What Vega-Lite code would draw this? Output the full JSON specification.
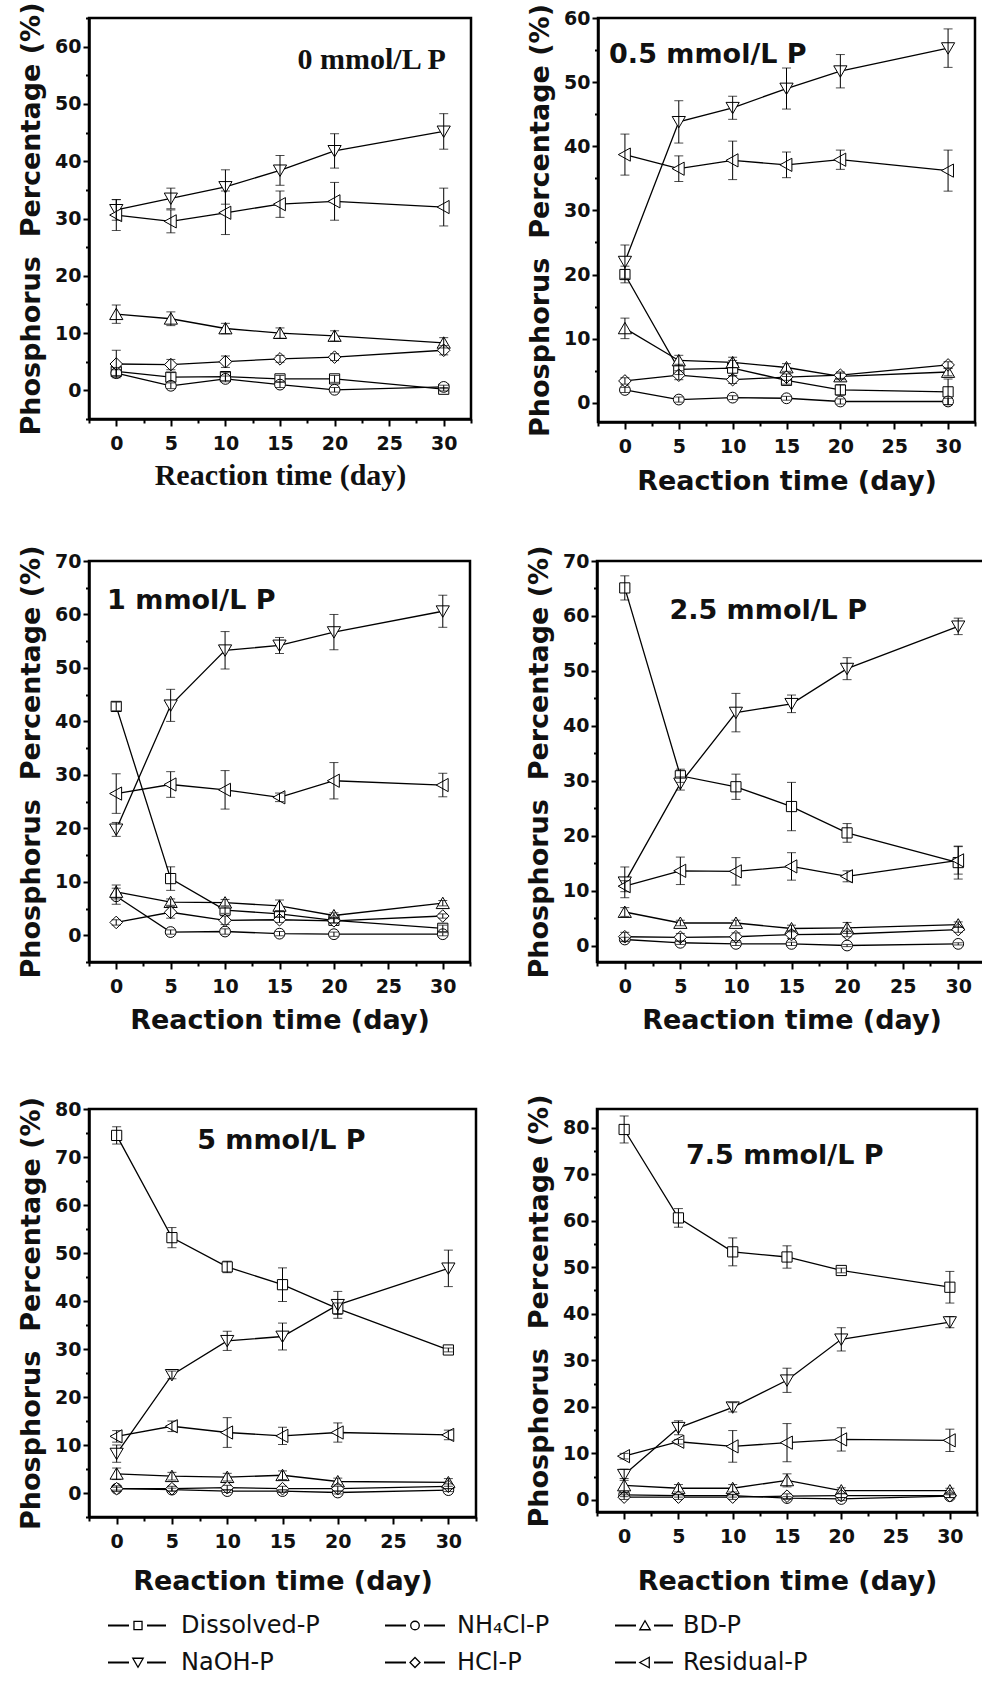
{
  "$schema": "https://vega.github.io/schema/vega-lite/v6.json",
  "background": "white",
  "padding": {"left": 16, "top": 0, "right": 0, "bottom": 0},
  "datasets": {
    "pts": [
      {"p":"0","s":"Dissolved-P","d":0,"v":3.3,"e":0.7},{"p":"0","s":"Dissolved-P","d":5,"v":2.3,"e":0.8},{"p":"0","s":"Dissolved-P","d":10,"v":2.4,"e":0.7},{"p":"0","s":"Dissolved-P","d":15,"v":2.0,"e":0.6},{"p":"0","s":"Dissolved-P","d":20,"v":2.0,"e":0.6},{"p":"0","s":"Dissolved-P","d":30,"v":0.2,"e":0.3},
      {"p":"0","s":"NH\u2084Cl-P","d":0,"v":3.0,"e":0.6},{"p":"0","s":"NH\u2084Cl-P","d":5,"v":0.8,"e":0.5},{"p":"0","s":"NH\u2084Cl-P","d":10,"v":2.0,"e":0.5},{"p":"0","s":"NH\u2084Cl-P","d":15,"v":1.0,"e":0.5},{"p":"0","s":"NH\u2084Cl-P","d":20,"v":0.1,"e":0.4},{"p":"0","s":"NH\u2084Cl-P","d":30,"v":0.6,"e":0.3},
      {"p":"0","s":"BD-P","d":0,"v":13.3,"e":1.6},{"p":"0","s":"BD-P","d":5,"v":12.5,"e":1.2},{"p":"0","s":"BD-P","d":10,"v":10.8,"e":0.9},{"p":"0","s":"BD-P","d":15,"v":10.0,"e":0.9},{"p":"0","s":"BD-P","d":20,"v":9.5,"e":0.9},{"p":"0","s":"BD-P","d":30,"v":8.3,"e":0.9},
      {"p":"0","s":"NaOH-P","d":0,"v":31.5,"e":1.8},{"p":"0","s":"NaOH-P","d":5,"v":33.5,"e":1.8},{"p":"0","s":"NaOH-P","d":10,"v":35.5,"e":3.0},{"p":"0","s":"NaOH-P","d":15,"v":38.4,"e":2.6},{"p":"0","s":"NaOH-P","d":20,"v":41.8,"e":3.0},{"p":"0","s":"NaOH-P","d":30,"v":45.2,"e":3.1},
      {"p":"0","s":"HCl-P","d":0,"v":4.6,"e":2.4},{"p":"0","s":"HCl-P","d":5,"v":4.5,"e":0.9},{"p":"0","s":"HCl-P","d":10,"v":5.0,"e":1.0},{"p":"0","s":"HCl-P","d":15,"v":5.5,"e":0.6},{"p":"0","s":"HCl-P","d":20,"v":5.8,"e":0.6},{"p":"0","s":"HCl-P","d":30,"v":7.0,"e":0.8},
      {"p":"0","s":"Residual-P","d":0,"v":30.6,"e":2.7},{"p":"0","s":"Residual-P","d":5,"v":29.5,"e":2.0},{"p":"0","s":"Residual-P","d":10,"v":31.0,"e":3.8},{"p":"0","s":"Residual-P","d":15,"v":32.5,"e":2.3},{"p":"0","s":"Residual-P","d":20,"v":33.0,"e":3.3},{"p":"0","s":"Residual-P","d":30,"v":32.0,"e":3.3},

      {"p":"0.5","s":"Dissolved-P","d":0,"v":20.0,"e":1.3},{"p":"0.5","s":"Dissolved-P","d":5,"v":5.2,"e":0.8},{"p":"0.5","s":"Dissolved-P","d":10,"v":5.4,"e":1.2},{"p":"0.5","s":"Dissolved-P","d":15,"v":3.5,"e":0.6},{"p":"0.5","s":"Dissolved-P","d":20,"v":2.0,"e":0.8},{"p":"0.5","s":"Dissolved-P","d":30,"v":1.7,"e":2.0},
      {"p":"0.5","s":"NH\u2084Cl-P","d":0,"v":2.0,"e":0.4},{"p":"0.5","s":"NH\u2084Cl-P","d":5,"v":0.5,"e":0.4},{"p":"0.5","s":"NH\u2084Cl-P","d":10,"v":0.8,"e":0.3},{"p":"0.5","s":"NH\u2084Cl-P","d":15,"v":0.7,"e":0.3},{"p":"0.5","s":"NH\u2084Cl-P","d":20,"v":0.2,"e":0.4},{"p":"0.5","s":"NH\u2084Cl-P","d":30,"v":0.2,"e":0.5},
      {"p":"0.5","s":"BD-P","d":0,"v":11.6,"e":1.6},{"p":"0.5","s":"BD-P","d":5,"v":6.6,"e":0.8},{"p":"0.5","s":"BD-P","d":10,"v":6.3,"e":0.8},{"p":"0.5","s":"BD-P","d":15,"v":5.5,"e":0.6},{"p":"0.5","s":"BD-P","d":20,"v":4.1,"e":0.5},{"p":"0.5","s":"BD-P","d":30,"v":4.8,"e":0.6},
      {"p":"0.5","s":"NaOH-P","d":0,"v":22.0,"e":2.6},{"p":"0.5","s":"NaOH-P","d":5,"v":43.8,"e":3.3},{"p":"0.5","s":"NaOH-P","d":10,"v":46.0,"e":1.8},{"p":"0.5","s":"NaOH-P","d":15,"v":49.0,"e":3.2},{"p":"0.5","s":"NaOH-P","d":20,"v":51.7,"e":2.6},{"p":"0.5","s":"NaOH-P","d":30,"v":55.3,"e":3.0},
      {"p":"0.5","s":"HCl-P","d":0,"v":3.4,"e":0.5},{"p":"0.5","s":"HCl-P","d":5,"v":4.3,"e":0.7},{"p":"0.5","s":"HCl-P","d":10,"v":3.6,"e":0.6},{"p":"0.5","s":"HCl-P","d":15,"v":4.0,"e":0.5},{"p":"0.5","s":"HCl-P","d":20,"v":4.3,"e":0.5},{"p":"0.5","s":"HCl-P","d":30,"v":5.9,"e":0.5},
      {"p":"0.5","s":"Residual-P","d":0,"v":38.7,"e":3.2},{"p":"0.5","s":"Residual-P","d":5,"v":36.5,"e":2.0},{"p":"0.5","s":"Residual-P","d":10,"v":37.8,"e":3.0},{"p":"0.5","s":"Residual-P","d":15,"v":37.1,"e":2.0},{"p":"0.5","s":"Residual-P","d":20,"v":37.9,"e":1.5},{"p":"0.5","s":"Residual-P","d":30,"v":36.2,"e":3.2},

      {"p":"1","s":"Dissolved-P","d":0,"v":42.8,"e":0.8},{"p":"1","s":"Dissolved-P","d":5,"v":10.6,"e":2.2},{"p":"1","s":"Dissolved-P","d":10,"v":4.7,"e":0.6},{"p":"1","s":"Dissolved-P","d":15,"v":4.0,"e":0.6},{"p":"1","s":"Dissolved-P","d":20,"v":2.8,"e":0.5},{"p":"1","s":"Dissolved-P","d":30,"v":1.3,"e":0.6},
      {"p":"1","s":"NH\u2084Cl-P","d":0,"v":7.3,"e":1.5},{"p":"1","s":"NH\u2084Cl-P","d":5,"v":0.6,"e":0.4},{"p":"1","s":"NH\u2084Cl-P","d":10,"v":0.7,"e":0.5},{"p":"1","s":"NH\u2084Cl-P","d":15,"v":0.3,"e":0.4},{"p":"1","s":"NH\u2084Cl-P","d":20,"v":0.2,"e":0.4},{"p":"1","s":"NH\u2084Cl-P","d":30,"v":0.2,"e":0.3},
      {"p":"1","s":"BD-P","d":0,"v":8.1,"e":1.3},{"p":"1","s":"BD-P","d":5,"v":6.2,"e":0.6},{"p":"1","s":"BD-P","d":10,"v":6.1,"e":0.6},{"p":"1","s":"BD-P","d":15,"v":5.5,"e":1.1},{"p":"1","s":"BD-P","d":20,"v":3.7,"e":0.5},{"p":"1","s":"BD-P","d":30,"v":6.0,"e":0.5},
      {"p":"1","s":"NaOH-P","d":0,"v":19.8,"e":1.3},{"p":"1","s":"NaOH-P","d":5,"v":43.0,"e":3.0},{"p":"1","s":"NaOH-P","d":10,"v":53.3,"e":3.5},{"p":"1","s":"NaOH-P","d":15,"v":54.2,"e":1.5},{"p":"1","s":"NaOH-P","d":20,"v":56.7,"e":3.3},{"p":"1","s":"NaOH-P","d":30,"v":60.6,"e":3.0},
      {"p":"1","s":"HCl-P","d":0,"v":2.4,"e":0.5},{"p":"1","s":"HCl-P","d":5,"v":4.3,"e":1.1},{"p":"1","s":"HCl-P","d":10,"v":2.8,"e":0.8},{"p":"1","s":"HCl-P","d":15,"v":2.9,"e":0.5},{"p":"1","s":"HCl-P","d":20,"v":2.7,"e":0.4},{"p":"1","s":"HCl-P","d":30,"v":3.6,"e":0.4},
      {"p":"1","s":"Residual-P","d":0,"v":26.5,"e":3.7},{"p":"1","s":"Residual-P","d":5,"v":28.2,"e":2.4},{"p":"1","s":"Residual-P","d":10,"v":27.2,"e":3.6},{"p":"1","s":"Residual-P","d":15,"v":25.8,"e":0.8},{"p":"1","s":"Residual-P","d":20,"v":28.9,"e":3.4},{"p":"1","s":"Residual-P","d":30,"v":28.1,"e":2.2},

      {"p":"2.5","s":"Dissolved-P","d":0,"v":65.1,"e":2.2},{"p":"2.5","s":"Dissolved-P","d":5,"v":30.9,"e":1.2},{"p":"2.5","s":"Dissolved-P","d":10,"v":28.9,"e":2.3},{"p":"2.5","s":"Dissolved-P","d":15,"v":25.3,"e":4.4},{"p":"2.5","s":"Dissolved-P","d":20,"v":20.5,"e":1.7},{"p":"2.5","s":"Dissolved-P","d":30,"v":15.1,"e":3.0},
      {"p":"2.5","s":"NH\u2084Cl-P","d":0,"v":1.1,"e":0.4},{"p":"2.5","s":"NH\u2084Cl-P","d":5,"v":0.5,"e":0.3},{"p":"2.5","s":"NH\u2084Cl-P","d":10,"v":0.3,"e":0.3},{"p":"2.5","s":"NH\u2084Cl-P","d":15,"v":0.3,"e":0.3},{"p":"2.5","s":"NH\u2084Cl-P","d":20,"v":0.0,"e":0.2},{"p":"2.5","s":"NH\u2084Cl-P","d":30,"v":0.3,"e":0.2},
      {"p":"2.5","s":"BD-P","d":0,"v":6.1,"e":0.8},{"p":"2.5","s":"BD-P","d":5,"v":4.1,"e":0.5},{"p":"2.5","s":"BD-P","d":10,"v":4.1,"e":0.5},{"p":"2.5","s":"BD-P","d":15,"v":3.1,"e":0.6},{"p":"2.5","s":"BD-P","d":20,"v":3.2,"e":1.0},{"p":"2.5","s":"BD-P","d":30,"v":3.8,"e":0.5},
      {"p":"2.5","s":"NaOH-P","d":0,"v":11.5,"e":2.8},{"p":"2.5","s":"NaOH-P","d":5,"v":29.5,"e":1.2},{"p":"2.5","s":"NaOH-P","d":10,"v":42.4,"e":3.5},{"p":"2.5","s":"NaOH-P","d":15,"v":44.0,"e":1.6},{"p":"2.5","s":"NaOH-P","d":20,"v":50.4,"e":2.0},{"p":"2.5","s":"NaOH-P","d":30,"v":58.1,"e":1.5},
      {"p":"2.5","s":"HCl-P","d":0,"v":1.6,"e":0.8},{"p":"2.5","s":"HCl-P","d":5,"v":1.5,"e":0.7},{"p":"2.5","s":"HCl-P","d":10,"v":1.6,"e":0.7},{"p":"2.5","s":"HCl-P","d":15,"v":2.0,"e":0.7},{"p":"2.5","s":"HCl-P","d":20,"v":2.1,"e":0.5},{"p":"2.5","s":"HCl-P","d":30,"v":2.9,"e":0.5},
      {"p":"2.5","s":"Residual-P","d":0,"v":10.8,"e":1.0},{"p":"2.5","s":"Residual-P","d":5,"v":13.6,"e":2.5},{"p":"2.5","s":"Residual-P","d":10,"v":13.5,"e":2.5},{"p":"2.5","s":"Residual-P","d":15,"v":14.4,"e":2.5},{"p":"2.5","s":"Residual-P","d":20,"v":12.6,"e":1.0},{"p":"2.5","s":"Residual-P","d":30,"v":15.5,"e":2.5},

      {"p":"5","s":"Dissolved-P","d":0,"v":74.5,"e":1.8},{"p":"5","s":"Dissolved-P","d":5,"v":53.2,"e":2.1},{"p":"5","s":"Dissolved-P","d":10,"v":47.1,"e":1.2},{"p":"5","s":"Dissolved-P","d":15,"v":43.4,"e":3.5},{"p":"5","s":"Dissolved-P","d":20,"v":38.4,"e":1.2},{"p":"5","s":"Dissolved-P","d":30,"v":29.8,"e":0.4},
      {"p":"5","s":"NH\u2084Cl-P","d":0,"v":0.9,"e":0.3},{"p":"5","s":"NH\u2084Cl-P","d":5,"v":0.7,"e":0.3},{"p":"5","s":"NH\u2084Cl-P","d":10,"v":0.4,"e":0.3},{"p":"5","s":"NH\u2084Cl-P","d":15,"v":0.4,"e":0.3},{"p":"5","s":"NH\u2084Cl-P","d":20,"v":0.1,"e":0.3},{"p":"5","s":"NH\u2084Cl-P","d":30,"v":0.6,"e":0.3},
      {"p":"5","s":"BD-P","d":0,"v":4.0,"e":1.2},{"p":"5","s":"BD-P","d":5,"v":3.5,"e":0.8},{"p":"5","s":"BD-P","d":10,"v":3.3,"e":0.8},{"p":"5","s":"BD-P","d":15,"v":3.7,"e":0.9},{"p":"5","s":"BD-P","d":20,"v":2.4,"e":0.7},{"p":"5","s":"BD-P","d":30,"v":2.2,"e":0.8},
      {"p":"5","s":"NaOH-P","d":0,"v":8.2,"e":1.8},{"p":"5","s":"NaOH-P","d":5,"v":24.6,"e":0.8},{"p":"5","s":"NaOH-P","d":10,"v":31.7,"e":2.0},{"p":"5","s":"NaOH-P","d":15,"v":32.6,"e":2.8},{"p":"5","s":"NaOH-P","d":20,"v":39.2,"e":2.8},{"p":"5","s":"NaOH-P","d":30,"v":46.8,"e":3.8},
      {"p":"5","s":"HCl-P","d":0,"v":0.9,"e":0.6},{"p":"5","s":"HCl-P","d":5,"v":0.9,"e":0.5},{"p":"5","s":"HCl-P","d":10,"v":1.1,"e":0.5},{"p":"5","s":"HCl-P","d":15,"v":0.9,"e":0.5},{"p":"5","s":"HCl-P","d":20,"v":0.9,"e":0.5},{"p":"5","s":"HCl-P","d":30,"v":1.4,"e":0.5},
      {"p":"5","s":"Residual-P","d":0,"v":11.8,"e":1.2},{"p":"5","s":"Residual-P","d":5,"v":13.9,"e":1.1},{"p":"5","s":"Residual-P","d":10,"v":12.6,"e":3.1},{"p":"5","s":"Residual-P","d":15,"v":11.9,"e":1.8},{"p":"5","s":"Residual-P","d":20,"v":12.6,"e":2.0},{"p":"5","s":"Residual-P","d":30,"v":12.1,"e":1.0},

      {"p":"7.5","s":"Dissolved-P","d":0,"v":79.6,"e":2.9},{"p":"7.5","s":"Dissolved-P","d":5,"v":60.6,"e":2.0},{"p":"7.5","s":"Dissolved-P","d":10,"v":53.3,"e":3.0},{"p":"7.5","s":"Dissolved-P","d":15,"v":52.2,"e":2.4},{"p":"7.5","s":"Dissolved-P","d":20,"v":49.3,"e":0.5},{"p":"7.5","s":"Dissolved-P","d":30,"v":45.7,"e":3.4},
      {"p":"7.5","s":"NH\u2084Cl-P","d":0,"v":1.1,"e":0.4},{"p":"7.5","s":"NH\u2084Cl-P","d":5,"v":0.9,"e":0.3},{"p":"7.5","s":"NH\u2084Cl-P","d":10,"v":0.9,"e":0.3},{"p":"7.5","s":"NH\u2084Cl-P","d":15,"v":0.4,"e":0.3},{"p":"7.5","s":"NH\u2084Cl-P","d":20,"v":0.2,"e":0.3},{"p":"7.5","s":"NH\u2084Cl-P","d":30,"v":0.8,"e":0.3},
      {"p":"7.5","s":"BD-P","d":0,"v":3.1,"e":1.5},{"p":"7.5","s":"BD-P","d":5,"v":2.5,"e":0.8},{"p":"7.5","s":"BD-P","d":10,"v":2.5,"e":0.8},{"p":"7.5","s":"BD-P","d":15,"v":4.2,"e":1.4},{"p":"7.5","s":"BD-P","d":20,"v":2.0,"e":0.6},{"p":"7.5","s":"BD-P","d":30,"v":2.0,"e":0.5},
      {"p":"7.5","s":"NaOH-P","d":0,"v":5.4,"e":1.2},{"p":"7.5","s":"NaOH-P","d":5,"v":15.5,"e":1.5},{"p":"7.5","s":"NaOH-P","d":10,"v":19.9,"e":1.0},{"p":"7.5","s":"NaOH-P","d":15,"v":25.7,"e":2.6},{"p":"7.5","s":"NaOH-P","d":20,"v":34.5,"e":2.5},{"p":"7.5","s":"NaOH-P","d":30,"v":38.2,"e":1.2},
      {"p":"7.5","s":"HCl-P","d":0,"v":0.6,"e":0.5},{"p":"7.5","s":"HCl-P","d":5,"v":0.6,"e":0.5},{"p":"7.5","s":"HCl-P","d":10,"v":0.6,"e":0.5},{"p":"7.5","s":"HCl-P","d":15,"v":0.8,"e":0.5},{"p":"7.5","s":"HCl-P","d":20,"v":0.9,"e":0.4},{"p":"7.5","s":"HCl-P","d":30,"v":0.9,"e":0.4},
      {"p":"7.5","s":"Residual-P","d":0,"v":9.4,"e":0.6},{"p":"7.5","s":"Residual-P","d":5,"v":12.5,"e":0.5},{"p":"7.5","s":"Residual-P","d":10,"v":11.5,"e":3.4},{"p":"7.5","s":"Residual-P","d":15,"v":12.3,"e":4.1},{"p":"7.5","s":"Residual-P","d":20,"v":13.0,"e":2.5},{"p":"7.5","s":"Residual-P","d":30,"v":12.8,"e":2.4}
    ]
  },
  "data": {"name": "pts"},
  "spacing": 47,
  "vconcat": [
    {
      "bounds": "flush",
      "spacing": 127,
      "hconcat": [
        {
          "width": 382, "height": 401,
          "encoding": {
            "x": {"field": "d", "type": "quantitative", "scale": {"domain": [-2.5, 32.5], "nice": false, "zero": false},
              "axis": {"title": "Reaction time (day)", "titleFont": "Liberation Serif", "titleFontSize": 30, "titlePadding": 7,
                "values": [-2.5,0,2.5,5,7.5,10,12.5,15,17.5,20,22.5,25,27.5,30,32.5],
                "labelExpr": "datum.value % 5 === 0 && datum.value >= 0 ? datum.label : ''",
                "tickSize": {"condition": {"test": "datum.value % 5 === 0", "value": 7}, "value": 4}, "labelPadding": 8}},
            "y": {"field": "v", "type": "quantitative", "scale": {"domain": [-5, 65], "nice": false, "zero": false},
              "axis": {"title": "Phosphorus\u00a0 Percentage (%)", "titlePadding": 9,
                "values": [-5,0,5,10,15,20,25,30,35,40,45,50,55,60,65],
                "labelExpr": "datum.value % 10 === 0 && datum.value >= 0 ? datum.label : ''",
                "tickSize": {"condition": {"test": "datum.value % 10 === 0", "value": 6}, "value": 3.5}, "labelPadding": 2}}
          },
          "layer": [
            {"transform": [{"filter": {"field": "p", "equal": "0"}}], "mark": {"type": "line", "color": "black", "strokeWidth": 1.3}, "encoding": {"detail": {"field": "s"}}},
            {"transform": [{"filter": {"field": "p", "equal": "0"}}], "mark": {"type": "point", "filled": true, "fill": "white", "stroke": "black", "strokeWidth": 1, "size": 144, "opacity": 1},
              "encoding": {"shape": {"field": "s", "type": "nominal", "legend": null,
                "scale": {"domain": ["Dissolved-P", "NH\u2084Cl-P", "BD-P", "NaOH-P", "HCl-P", "Residual-P"],
                  "range": ["M-0.85,-0.85H0.85V0.85H-0.85Z", "M0.9,0A0.9,0.9 0 1,1 -0.9,0A0.9,0.9 0 1,1 0.9,0Z", "M0,-1L1.1,0.9H-1.1Z", "M-1.1,-0.9H1.1L0,1Z", "M0,-1.05L1.05,0L0,1.05L-1.05,0Z", "M-1.1,0L0.9,-1.1V1.1Z"]}}}},
            {"transform": [{"filter": {"field": "p", "equal": "0"}}], "mark": {"type": "errorbar", "color": "black", "ticks": {"size": 9, "strokeWidth": 1}, "rule": {"strokeWidth": 1}}, "encoding": {"yError": {"field": "e"}}},
            {"transform": [{"filter": {"field": "p", "equal": "0"}}, {"filter": {"field": "d", "equal": 0}}, {"filter": {"field": "s", "equal": "Dissolved-P"}}],
              "mark": {"type": "text", "font": "Liberation Serif", "fontWeight": "bold", "fontSize": 30, "align": "center", "baseline": "middle", "fill": "#111"},
              "encoding": {"x": {"datum": 23.4, "type": "quantitative"}, "y": {"datum": 57.6, "type": "quantitative"}, "text": {"value": "0 mmol/L P"}}}
          ]
        },
        {
          "width": 377, "height": 404,
          "encoding": {
            "x": {"field": "d", "type": "quantitative", "scale": {"domain": [-2.5, 32.5], "nice": false, "zero": false},
              "axis": {"title": "Reaction time (day)", "titlePadding": 12,
                "values": [-2.5,0,2.5,5,7.5,10,12.5,15,17.5,20,22.5,25,27.5,30,32.5],
                "labelExpr": "datum.value % 5 === 0 && datum.value >= 0 ? datum.label : ''",
                "tickSize": {"condition": {"test": "datum.value % 5 === 0", "value": 7}, "value": 4}, "labelPadding": 8}},
            "y": {"field": "v", "type": "quantitative", "scale": {"domain": [-3, 60], "nice": false, "zero": false},
              "axis": {"title": "Phosphorus\u00a0 Percentage (%)", "titlePadding": 9,
                "values": [0,5,10,15,20,25,30,35,40,45,50,55,60],
                "labelExpr": "datum.value % 10 === 0 && datum.value >= 0 ? datum.label : ''",
                "tickSize": {"condition": {"test": "datum.value % 10 === 0", "value": 6}, "value": 3.5}, "labelPadding": 2}}
          },
          "layer": [
            {"transform": [{"filter": {"field": "p", "equal": "0.5"}}], "mark": {"type": "line", "color": "black", "strokeWidth": 1.3}, "encoding": {"detail": {"field": "s"}}},
            {"transform": [{"filter": {"field": "p", "equal": "0.5"}}], "mark": {"type": "point", "filled": true, "fill": "white", "stroke": "black", "strokeWidth": 1, "size": 144, "opacity": 1},
              "encoding": {"shape": {"field": "s", "type": "nominal", "legend": null,
                "scale": {"domain": ["Dissolved-P", "NH\u2084Cl-P", "BD-P", "NaOH-P", "HCl-P", "Residual-P"],
                  "range": ["M-0.85,-0.85H0.85V0.85H-0.85Z", "M0.9,0A0.9,0.9 0 1,1 -0.9,0A0.9,0.9 0 1,1 0.9,0Z", "M0,-1L1.1,0.9H-1.1Z", "M-1.1,-0.9H1.1L0,1Z", "M0,-1.05L1.05,0L0,1.05L-1.05,0Z", "M-1.1,0L0.9,-1.1V1.1Z"]}}}},
            {"transform": [{"filter": {"field": "p", "equal": "0.5"}}], "mark": {"type": "errorbar", "color": "black", "ticks": {"size": 9, "strokeWidth": 1}, "rule": {"strokeWidth": 1}}, "encoding": {"yError": {"field": "e"}}},
            {"transform": [{"filter": {"field": "p", "equal": "0.5"}}, {"filter": {"field": "d", "equal": 0}}, {"filter": {"field": "s", "equal": "Dissolved-P"}}],
              "mark": {"type": "text", "font": "DejaVu Sans", "fontWeight": "bold", "fontSize": 27, "align": "center", "baseline": "middle", "fill": "#111"},
              "encoding": {"x": {"datum": 7.7, "type": "quantitative"}, "y": {"datum": 54.2, "type": "quantitative"}, "text": {"value": "0.5 mmol/L P"}}}
          ]
        }
      ]
    },
    {
      "spacing": 57,
      "vconcat": [
        {
          "bounds": "flush",
          "spacing": 127,
          "hconcat": [
            {
              "width": 381, "height": 401,
              "encoding": {
                "x": {"field": "d", "type": "quantitative", "scale": {"domain": [-2.5, 32.5], "nice": false, "zero": false},
                  "axis": {"title": "Reaction time (day)", "titlePadding": 11,
                    "values": [-2.5,0,2.5,5,7.5,10,12.5,15,17.5,20,22.5,25,27.5,30,32.5],
                    "labelExpr": "datum.value % 5 === 0 && datum.value >= 0 ? datum.label : ''",
                    "tickSize": {"condition": {"test": "datum.value % 5 === 0", "value": 7}, "value": 4}, "labelPadding": 8}},
                "y": {"field": "v", "type": "quantitative", "scale": {"domain": [-5, 70], "nice": false, "zero": false},
                  "axis": {"title": "Phosphorus\u00a0 Percentage (%)", "titlePadding": 9,
                    "values": [-5,0,5,10,15,20,25,30,35,40,45,50,55,60,65,70],
                    "labelExpr": "datum.value % 10 === 0 && datum.value >= 0 ? datum.label : ''",
                    "tickSize": {"condition": {"test": "datum.value % 10 === 0", "value": 6}, "value": 3.5}, "labelPadding": 2}}
              },
              "layer": [
                {"transform": [{"filter": {"field": "p", "equal": "1"}}], "mark": {"type": "line", "color": "black", "strokeWidth": 1.3}, "encoding": {"detail": {"field": "s"}}},
                {"transform": [{"filter": {"field": "p", "equal": "1"}}], "mark": {"type": "point", "filled": true, "fill": "white", "stroke": "black", "strokeWidth": 1, "size": 144, "opacity": 1},
                  "encoding": {"shape": {"field": "s", "type": "nominal", "legend": null,
                    "scale": {"domain": ["Dissolved-P", "NH\u2084Cl-P", "BD-P", "NaOH-P", "HCl-P", "Residual-P"],
                      "range": ["M-0.85,-0.85H0.85V0.85H-0.85Z", "M0.9,0A0.9,0.9 0 1,1 -0.9,0A0.9,0.9 0 1,1 0.9,0Z", "M0,-1L1.1,0.9H-1.1Z", "M-1.1,-0.9H1.1L0,1Z", "M0,-1.05L1.05,0L0,1.05L-1.05,0Z", "M-1.1,0L0.9,-1.1V1.1Z"]}}}},
                {"transform": [{"filter": {"field": "p", "equal": "1"}}], "mark": {"type": "errorbar", "color": "black", "ticks": {"size": 9, "strokeWidth": 1}, "rule": {"strokeWidth": 1}}, "encoding": {"yError": {"field": "e"}}},
                {"transform": [{"filter": {"field": "p", "equal": "1"}}, {"filter": {"field": "d", "equal": 0}}, {"filter": {"field": "s", "equal": "Dissolved-P"}}],
                  "mark": {"type": "text", "font": "DejaVu Sans", "fontWeight": "bold", "fontSize": 27, "align": "center", "baseline": "middle", "fill": "#111"},
                  "encoding": {"x": {"datum": 6.9, "type": "quantitative"}, "y": {"datum": 62.6, "type": "quantitative"}, "text": {"value": "1 mmol/L P"}}}
              ]
            },
            {
              "width": 389, "height": 401,
              "encoding": {
                "x": {"field": "d", "type": "quantitative", "scale": {"domain": [-2.5, 32.5], "nice": false, "zero": false},
                  "axis": {"title": "Reaction time (day)", "titlePadding": 11,
                    "values": [-2.5,0,2.5,5,7.5,10,12.5,15,17.5,20,22.5,25,27.5,30,32.5],
                    "labelExpr": "datum.value % 5 === 0 && datum.value >= 0 ? datum.label : ''",
                    "tickSize": {"condition": {"test": "datum.value % 5 === 0", "value": 7}, "value": 4}, "labelPadding": 8}},
                "y": {"field": "v", "type": "quantitative", "scale": {"domain": [-3, 70], "nice": false, "zero": false},
                  "axis": {"title": "Phosphorus\u00a0 Percentage (%)", "titlePadding": 9,
                    "values": [0,5,10,15,20,25,30,35,40,45,50,55,60,65,70],
                    "labelExpr": "datum.value % 10 === 0 && datum.value >= 0 ? datum.label : ''",
                    "tickSize": {"condition": {"test": "datum.value % 10 === 0", "value": 6}, "value": 3.5}, "labelPadding": 2}}
              },
              "layer": [
                {"transform": [{"filter": {"field": "p", "equal": "2.5"}}], "mark": {"type": "line", "color": "black", "strokeWidth": 1.3}, "encoding": {"detail": {"field": "s"}}},
                {"transform": [{"filter": {"field": "p", "equal": "2.5"}}], "mark": {"type": "point", "filled": true, "fill": "white", "stroke": "black", "strokeWidth": 1, "size": 144, "opacity": 1},
                  "encoding": {"shape": {"field": "s", "type": "nominal", "legend": null,
                    "scale": {"domain": ["Dissolved-P", "NH\u2084Cl-P", "BD-P", "NaOH-P", "HCl-P", "Residual-P"],
                      "range": ["M-0.85,-0.85H0.85V0.85H-0.85Z", "M0.9,0A0.9,0.9 0 1,1 -0.9,0A0.9,0.9 0 1,1 0.9,0Z", "M0,-1L1.1,0.9H-1.1Z", "M-1.1,-0.9H1.1L0,1Z", "M0,-1.05L1.05,0L0,1.05L-1.05,0Z", "M-1.1,0L0.9,-1.1V1.1Z"]}}}},
                {"transform": [{"filter": {"field": "p", "equal": "2.5"}}], "mark": {"type": "errorbar", "color": "black", "ticks": {"size": 9, "strokeWidth": 1}, "rule": {"strokeWidth": 1}}, "encoding": {"yError": {"field": "e"}}},
                {"transform": [{"filter": {"field": "p", "equal": "2.5"}}, {"filter": {"field": "d", "equal": 0}}, {"filter": {"field": "s", "equal": "Dissolved-P"}}],
                  "mark": {"type": "text", "font": "DejaVu Sans", "fontWeight": "bold", "fontSize": 27, "align": "center", "baseline": "middle", "fill": "#111"},
                  "encoding": {"x": {"datum": 12.9, "type": "quantitative"}, "y": {"datum": 60.9, "type": "quantitative"}, "text": {"value": "2.5 mmol/L P"}}}
              ]
            }
          ]
        },
        {
          "spacing": 11,
          "vconcat": [
            {
              "bounds": "flush",
              "spacing": 121,
              "hconcat": [
                {
                  "width": 387, "height": 408,
                  "encoding": {
                    "x": {"field": "d", "type": "quantitative", "scale": {"domain": [-2.5, 32.5], "nice": false, "zero": false},
                      "axis": {"title": "Reaction time (day)", "titlePadding": 17,
                        "values": [-2.5,0,2.5,5,7.5,10,12.5,15,17.5,20,22.5,25,27.5,30,32.5],
                        "labelExpr": "datum.value % 5 === 0 && datum.value >= 0 ? datum.label : ''",
                        "tickSize": {"condition": {"test": "datum.value % 5 === 0", "value": 7}, "value": 4}, "labelPadding": 8}},
                    "y": {"field": "v", "type": "quantitative", "scale": {"domain": [-5, 80], "nice": false, "zero": false},
                      "axis": {"title": "Phosphorus\u00a0 Percentage (%)", "titlePadding": 9,
                        "values": [-5,0,5,10,15,20,25,30,35,40,45,50,55,60,65,70,75,80],
                        "labelExpr": "datum.value % 10 === 0 && datum.value >= 0 ? datum.label : ''",
                        "tickSize": {"condition": {"test": "datum.value % 10 === 0", "value": 6}, "value": 3.5}, "labelPadding": 2}}
                  },
                  "layer": [
                    {"transform": [{"filter": {"field": "p", "equal": "5"}}], "mark": {"type": "line", "color": "black", "strokeWidth": 1.3}, "encoding": {"detail": {"field": "s"}}},
                    {"transform": [{"filter": {"field": "p", "equal": "5"}}], "mark": {"type": "point", "filled": true, "fill": "white", "stroke": "black", "strokeWidth": 1, "size": 144, "opacity": 1},
                      "encoding": {"shape": {"field": "s", "type": "nominal", "legend": null,
                        "scale": {"domain": ["Dissolved-P", "NH\u2084Cl-P", "BD-P", "NaOH-P", "HCl-P", "Residual-P"],
                          "range": ["M-0.85,-0.85H0.85V0.85H-0.85Z", "M0.9,0A0.9,0.9 0 1,1 -0.9,0A0.9,0.9 0 1,1 0.9,0Z", "M0,-1L1.1,0.9H-1.1Z", "M-1.1,-0.9H1.1L0,1Z", "M0,-1.05L1.05,0L0,1.05L-1.05,0Z", "M-1.1,0L0.9,-1.1V1.1Z"]}}}},
                    {"transform": [{"filter": {"field": "p", "equal": "5"}}], "mark": {"type": "errorbar", "color": "black", "ticks": {"size": 9, "strokeWidth": 1}, "rule": {"strokeWidth": 1}}, "encoding": {"yError": {"field": "e"}}},
                    {"transform": [{"filter": {"field": "p", "equal": "5"}}, {"filter": {"field": "d", "equal": 0}}, {"filter": {"field": "s", "equal": "Dissolved-P"}}],
                      "mark": {"type": "text", "font": "DejaVu Sans", "fontWeight": "bold", "fontSize": 27, "align": "center", "baseline": "middle", "fill": "#111"},
                      "encoding": {"x": {"datum": 14.9, "type": "quantitative"}, "y": {"datum": 73.3, "type": "quantitative"}, "text": {"value": "5 mmol/L P"}}}
                  ]
                },
                {
                  "width": 380, "height": 403,
                  "encoding": {
                    "x": {"field": "d", "type": "quantitative", "scale": {"domain": [-2.5, 32.5], "nice": false, "zero": false},
                      "axis": {"title": "Reaction time (day)", "titlePadding": 22,
                        "values": [-2.5,0,2.5,5,7.5,10,12.5,15,17.5,20,22.5,25,27.5,30,32.5],
                        "labelExpr": "datum.value % 5 === 0 && datum.value >= 0 ? datum.label : ''",
                        "tickSize": {"condition": {"test": "datum.value % 5 === 0", "value": 7}, "value": 4}, "labelPadding": 8}},
                    "y": {"field": "v", "type": "quantitative", "scale": {"domain": [-2.6, 84], "nice": false, "zero": false},
                      "axis": {"title": "Phosphorus\u00a0 Percentage (%)", "titlePadding": 9,
                        "values": [0,5,10,15,20,25,30,35,40,45,50,55,60,65,70,75,80],
                        "labelExpr": "datum.value % 10 === 0 && datum.value >= 0 ? datum.label : ''",
                        "tickSize": {"condition": {"test": "datum.value % 10 === 0", "value": 6}, "value": 3.5}, "labelPadding": 2}}
                  },
                  "layer": [
                    {"transform": [{"filter": {"field": "p", "equal": "7.5"}}], "mark": {"type": "line", "color": "black", "strokeWidth": 1.3}, "encoding": {"detail": {"field": "s"}}},
                    {"transform": [{"filter": {"field": "p", "equal": "7.5"}}], "mark": {"type": "point", "filled": true, "fill": "white", "stroke": "black", "strokeWidth": 1, "size": 144, "opacity": 1},
                      "encoding": {"shape": {"field": "s", "type": "nominal", "legend": null,
                        "scale": {"domain": ["Dissolved-P", "NH\u2084Cl-P", "BD-P", "NaOH-P", "HCl-P", "Residual-P"],
                          "range": ["M-0.85,-0.85H0.85V0.85H-0.85Z", "M0.9,0A0.9,0.9 0 1,1 -0.9,0A0.9,0.9 0 1,1 0.9,0Z", "M0,-1L1.1,0.9H-1.1Z", "M-1.1,-0.9H1.1L0,1Z", "M0,-1.05L1.05,0L0,1.05L-1.05,0Z", "M-1.1,0L0.9,-1.1V1.1Z"]}}}},
                    {"transform": [{"filter": {"field": "p", "equal": "7.5"}}], "mark": {"type": "errorbar", "color": "black", "ticks": {"size": 9, "strokeWidth": 1}, "rule": {"strokeWidth": 1}}, "encoding": {"yError": {"field": "e"}}},
                    {"transform": [{"filter": {"field": "p", "equal": "7.5"}}, {"filter": {"field": "d", "equal": 0}}, {"filter": {"field": "s", "equal": "Dissolved-P"}}],
                      "mark": {"type": "text", "font": "DejaVu Sans", "fontWeight": "bold", "fontSize": 27, "align": "center", "baseline": "middle", "fill": "#111"},
                      "encoding": {"x": {"datum": 14.8, "type": "quantitative"}, "y": {"datum": 73.9, "type": "quantitative"}, "text": {"value": "7.5 mmol/L P"}}}
                  ]
                }
              ]
            },
            {
              "bounds": "flush",
              "spacing": 0,
              "hconcat": [
                {
                  "width": 277, "height": {"step": 37},
                  "view": {"stroke": null},
                  "transform": [{"filter": {"field": "p", "equal": "0"}}, {"filter": {"field": "d", "equal": 0}}, {"filter": {"field": "s", "oneOf": ["Dissolved-P", "NaOH-P"]}}],
                  "encoding": {"y": {"field": "s", "type": "nominal", "sort": ["Dissolved-P", "NaOH-P"], "axis": null}},
                  "layer": [
                    {"mark": {"type": "rule", "color": "black", "strokeWidth": 2}, "encoding": {"x": {"datum": -30, "type": "quantitative", "scale": {"domain": [-49, 228], "nice": false, "zero": false}, "axis": null}, "x2": {"datum": -9}}},
                    {"mark": {"type": "rule", "color": "black", "strokeWidth": 2}, "encoding": {"x": {"datum": 9, "type": "quantitative"}, "x2": {"datum": 28}}},
                    {"mark": {"type": "point", "filled": true, "fill": "white", "stroke": "black", "strokeWidth": 1.3, "size": 90, "opacity": 1},
                      "encoding": {"x": {"datum": 0, "type": "quantitative"}, "shape": {"field": "s", "type": "nominal", "legend": null,
                        "scale": {"domain": ["Dissolved-P", "NH\u2084Cl-P", "BD-P", "NaOH-P", "HCl-P", "Residual-P"],
                          "range": ["M-0.85,-0.85H0.85V0.85H-0.85Z", "M0.9,0A0.9,0.9 0 1,1 -0.9,0A0.9,0.9 0 1,1 0.9,0Z", "M0,-1L1.1,0.9H-1.1Z", "M-1.1,-0.9H1.1L0,1Z", "M0,-1.05L1.05,0L0,1.05L-1.05,0Z", "M-1.1,0L0.9,-1.1V1.1Z"]}}}},
                    {"mark": {"type": "text", "align": "left", "baseline": "middle", "font": "DejaVu Sans", "fontSize": 24, "fill": "#111"},
                      "encoding": {"x": {"datum": 43, "type": "quantitative"}, "text": {"field": "s"}}}
                  ]
                },
                {
                  "width": 226, "height": {"step": 37},
                  "view": {"stroke": null},
                  "transform": [{"filter": {"field": "p", "equal": "0"}}, {"filter": {"field": "d", "equal": 0}}, {"filter": {"field": "s", "oneOf": ["NH\u2084Cl-P", "HCl-P"]}}],
                  "encoding": {"y": {"field": "s", "type": "nominal", "sort": ["NH\u2084Cl-P", "HCl-P"], "axis": null}},
                  "layer": [
                    {"mark": {"type": "rule", "color": "black", "strokeWidth": 2}, "encoding": {"x": {"datum": -30, "type": "quantitative", "scale": {"domain": [-49, 177], "nice": false, "zero": false}, "axis": null}, "x2": {"datum": -9}}},
                    {"mark": {"type": "rule", "color": "black", "strokeWidth": 2}, "encoding": {"x": {"datum": 9, "type": "quantitative"}, "x2": {"datum": 30}}},
                    {"mark": {"type": "point", "filled": true, "fill": "white", "stroke": "black", "strokeWidth": 1.3, "size": 90, "opacity": 1},
                      "encoding": {"x": {"datum": 0, "type": "quantitative"}, "shape": {"field": "s", "type": "nominal", "legend": null,
                        "scale": {"domain": ["Dissolved-P", "NH\u2084Cl-P", "BD-P", "NaOH-P", "HCl-P", "Residual-P"],
                          "range": ["M-0.85,-0.85H0.85V0.85H-0.85Z", "M0.9,0A0.9,0.9 0 1,1 -0.9,0A0.9,0.9 0 1,1 0.9,0Z", "M0,-1L1.1,0.9H-1.1Z", "M-1.1,-0.9H1.1L0,1Z", "M0,-1.05L1.05,0L0,1.05L-1.05,0Z", "M-1.1,0L0.9,-1.1V1.1Z"]}}}},
                    {"mark": {"type": "text", "align": "left", "baseline": "middle", "font": "DejaVu Sans", "fontSize": 24, "fill": "#111"},
                      "encoding": {"x": {"datum": 42, "type": "quantitative"}, "text": {"field": "s"}}}
                  ]
                },
                {
                  "width": 250, "height": {"step": 37},
                  "view": {"stroke": null},
                  "transform": [{"filter": {"field": "p", "equal": "0"}}, {"filter": {"field": "d", "equal": 0}}, {"filter": {"field": "s", "oneOf": ["BD-P", "Residual-P"]}}],
                  "encoding": {"y": {"field": "s", "type": "nominal", "sort": ["BD-P", "Residual-P"], "axis": null}},
                  "layer": [
                    {"mark": {"type": "rule", "color": "black", "strokeWidth": 2}, "encoding": {"x": {"datum": -30, "type": "quantitative", "scale": {"domain": [-53, 197], "nice": false, "zero": false}, "axis": null}, "x2": {"datum": -9}}},
                    {"mark": {"type": "rule", "color": "black", "strokeWidth": 2}, "encoding": {"x": {"datum": 9, "type": "quantitative"}, "x2": {"datum": 28}}},
                    {"mark": {"type": "point", "filled": true, "fill": "white", "stroke": "black", "strokeWidth": 1.3, "size": 90, "opacity": 1},
                      "encoding": {"x": {"datum": 0, "type": "quantitative"}, "shape": {"field": "s", "type": "nominal", "legend": null,
                        "scale": {"domain": ["Dissolved-P", "NH\u2084Cl-P", "BD-P", "NaOH-P", "HCl-P", "Residual-P"],
                          "range": ["M-0.85,-0.85H0.85V0.85H-0.85Z", "M0.9,0A0.9,0.9 0 1,1 -0.9,0A0.9,0.9 0 1,1 0.9,0Z", "M0,-1L1.1,0.9H-1.1Z", "M-1.1,-0.9H1.1L0,1Z", "M0,-1.05L1.05,0L0,1.05L-1.05,0Z", "M-1.1,0L0.9,-1.1V1.1Z"]}}}},
                    {"mark": {"type": "text", "align": "left", "baseline": "middle", "font": "DejaVu Sans", "fontSize": 24, "fill": "#111"},
                      "encoding": {"x": {"datum": 38, "type": "quantitative"}, "text": {"field": "s"}}}
                  ]
                }
              ]
            }
          ]
        }
      ]
    }
  ],
  "config": {
    "view": {"stroke": "black", "strokeWidth": 2.5},
    "axis": {"grid": false, "domainColor": "black", "domainWidth": 2.5, "tickColor": "black", "tickWidth": 2,
      "labelFont": "DejaVu Sans", "labelFontWeight": "bold", "labelFontSize": 19, "labelColor": "#111",
      "titleFont": "DejaVu Sans", "titleFontWeight": "bold", "titleFontSize": 27, "titleColor": "#111",
      "labelOverlap": false, "labelFlush": false}
  }
}
